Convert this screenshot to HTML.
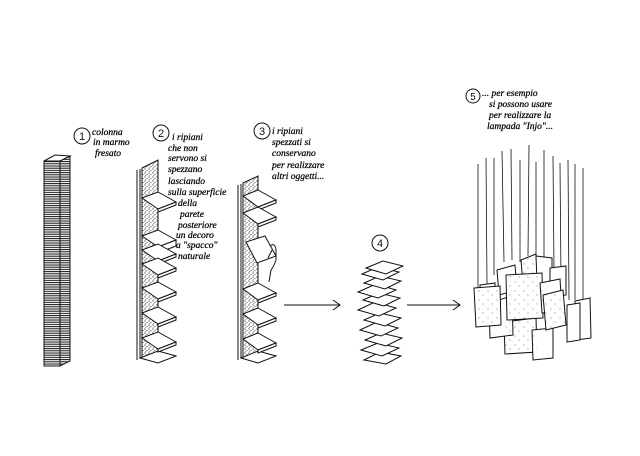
<!DOCTYPE html>
<html><head><meta charset="utf-8"><style>
html,body{margin:0;padding:0;background:#fff;}
svg{display:block}
.h{font-family:"Liberation Serif",serif;font-style:italic;font-size:9.5px;fill:#000;stroke:#000;stroke-width:0.25px;}
</style></head><body>
<svg width="640" height="456" viewBox="0 0 640 456" xmlns="http://www.w3.org/2000/svg">
<defs>
<pattern id="hl" width="4" height="2.2" patternUnits="userSpaceOnUse"><line x1="0" y1="1" x2="4" y2="1" stroke="#111" stroke-width="1"/></pattern>
<pattern id="st" width="4" height="4" patternUnits="userSpaceOnUse"><circle cx="1" cy="1" r="0.6" fill="#222"/><circle cx="3" cy="2.5" r="0.55" fill="#333"/><circle cx="1.8" cy="3.6" r="0.45" fill="#444"/></pattern>
<pattern id="dt" width="9" height="9" patternUnits="userSpaceOnUse"><circle cx="2" cy="3" r="0.5" fill="#555"/><circle cx="6" cy="7" r="0.5" fill="#555"/></pattern>
</defs>
<g fill="none" stroke="#111" stroke-width="1">
<!-- column 1 -->
<rect x="44" y="161" width="16" height="205" fill="url(#hl)"/>
<polygon points="60,161 70,156 70,361 60,366" fill="url(#hl)"/>
<polygon points="44,161 55,155 70,156 60,161" fill="#fff"/>
<!-- column 2 -->
<line x1="137" y1="170" x2="137" y2="360"/><line x1="140" y1="169" x2="140" y2="358"/>
<polygon points="142,168 158,160 158,352 142,358" fill="url(#st)"/>
<polygon points="140,358 158,351 176,356 158,363" fill="#fff"/>
<g fill="#fff">
<polygon points="142,198 158,192 176,202 158,209"/><polygon points="158,209 176,202 176,205 158,212"/>
<polygon points="142,236 158,230 176,240 158,247"/><polygon points="158,247 176,240 176,246 158,253"/>
<polygon points="142,250 158,244 176,254 158,261"/><polygon points="158,261 176,254 176,257 158,264"/>
<polygon points="142,264 158,258 176,268 158,275"/><polygon points="158,275 176,268 176,271 158,278"/>
<polygon points="142,288 158,282 176,292 158,299"/><polygon points="158,299 176,292 176,295 158,302"/>
<polygon points="142,313 158,307 176,317 158,324"/><polygon points="158,324 176,317 176,320 158,327"/>
<polygon points="142,338 158,332 176,342 158,349"/><polygon points="158,349 176,342 176,345 158,352"/>
</g>
<!-- column 3 -->
<line x1="238" y1="185" x2="238" y2="360"/><line x1="241" y1="184" x2="241" y2="358"/>
<polygon points="243,183 258,176 258,352 243,358" fill="url(#st)"/>
<polygon points="241,358 258,351 276,356 258,363" fill="#fff"/>
<g fill="#fff">
<polygon points="243,196 258,190 276,200 258,207"/><polygon points="258,207 276,200 276,203 258,210"/>
<polygon points="243,213 258,207 276,217 258,224"/><polygon points="258,224 276,217 276,220 258,227"/>
<polygon points="243,289 258,283 276,293 258,300"/><polygon points="258,300 276,293 276,296 258,303"/>
<polygon points="243,314 258,308 276,318 258,325"/><polygon points="258,325 276,318 276,321 258,328"/>
<polygon points="243,339 258,333 276,343 258,350"/><polygon points="258,350 276,343 276,346 258,353"/>
<polygon points="246,242 265,236 276,256 257,263"/>
</g>
<path d="M270,246 q5,-4 6,4 l0,10 q-2,6 -5,10 l-2,12 M268,258 l4,-8"/>
<!-- arrows -->
<line x1="284" y1="305" x2="340" y2="305"/><path d="M333,300 L340,305 L333,310"/>
<line x1="407" y1="305" x2="460" y2="305"/><path d="M453,300 L460,305 L453,310"/>
<!-- circles -->
<circle cx="82" cy="136" r="8"/><circle cx="161" cy="133" r="8"/><circle cx="262" cy="131" r="8"/>
<circle cx="380" cy="243" r="8"/><circle cx="473" cy="96" r="7"/>
<!-- stack 4 -->
<g fill="#fff">
<polygon points="364,360 380,352 401,356 386,364"/>
<polygon points="361,350 378,343 399,348 382,356"/>
<polygon points="365,340 381,333 402,338 386,346"/>
<polygon points="360,330 377,322 398,328 381,336"/>
<polygon points="364,320 380,313 401,318 385,326"/>
<polygon points="358,310 375,302 396,308 379,316"/>
<polygon points="363,300 379,293 400,298 384,306"/>
<polygon points="358,292 376,284 396,290 378,298"/>
<polygon points="364,283 380,276 401,281 385,289"/>
<polygon points="362,274 378,267 399,272 383,280"/>
<polygon points="366,268 383,261 403,266 386,274"/>
</g>
<!-- lamp strings -->
<g stroke-width="0.8">
<line x1="478" y1="164" x2="478" y2="290"/><line x1="486" y1="158" x2="487" y2="285"/>
<line x1="494" y1="158" x2="494" y2="275"/><line x1="502" y1="151" x2="504" y2="262"/>
<line x1="511" y1="149" x2="512" y2="260"/><line x1="520" y1="160" x2="520" y2="262"/>
<line x1="529" y1="145" x2="528" y2="256"/><line x1="536" y1="162" x2="536" y2="258"/>
<line x1="544" y1="150" x2="544" y2="265"/><line x1="553" y1="156" x2="554" y2="270"/>
<line x1="560" y1="163" x2="561" y2="280"/><line x1="568" y1="160" x2="569" y2="300"/>
<line x1="575" y1="164" x2="575" y2="300"/><line x1="583" y1="168" x2="583" y2="300"/>
</g>
<!-- lamp panels -->
<g fill="#fff">
<polygon points="521,260 536,254 538,280 523,285" fill="url(#dt)"/>
<polygon points="536,256 552,258 552,285 537,282"/>
<polygon points="497,270 515,265 517,290 499,295"/>
<polygon points="550,268 566,266 566,295 550,296"/>
<polygon points="575,301 590,298 591,338 576,340"/>
<polygon points="567,305 580,303 580,340 567,342"/>
<polygon points="480,285 495,283 495,315 481,317"/>
<polygon points="504,322 536,318 537,352 505,354"/>
<polygon points="532,330 553,328 553,358 533,360"/>
<polygon points="489,303 512,296 513,335 490,338"/>
<polygon points="474,288 500,286 501,325 476,327"/>
<polygon points="506,275 542,273 543,318 507,320"/>
<polygon points="540,283 560,279 562,311 542,313"/>
<polygon points="543,295 563,290 566,325 546,330"/>
</g>
<g fill="url(#dt)" stroke="none">
<polygon points="506,275 542,273 543,318 507,320"/><polygon points="474,288 500,286 501,325 476,327"/>
<polygon points="543,295 563,290 566,325 546,330"/><polygon points="504,322 536,318 537,352 505,354"/>
</g>
</g>
<!-- text -->
<text class="h"><tspan x="92" y="135">colonna</tspan><tspan x="93" y="145">in marmo</tspan><tspan x="95" y="156">fresato</tspan></text>
<text class="h"><tspan x="172" y="140">i ripiani</tspan><tspan x="168" y="151">che non</tspan><tspan x="168" y="161">servono si</tspan><tspan x="168" y="172">spezzano</tspan><tspan x="168" y="184">lasciando</tspan><tspan x="168" y="195">sulla superficie</tspan><tspan x="178" y="206">della</tspan><tspan x="180" y="217">parete</tspan><tspan x="178" y="228">posteriore</tspan><tspan x="176" y="238">un decoro</tspan><tspan x="176" y="248">a "spacco"</tspan><tspan x="178" y="259">naturale</tspan></text>
<text class="h"><tspan x="272" y="134">i ripiani</tspan><tspan x="272" y="145">spezzati si</tspan><tspan x="272" y="156">conservano</tspan><tspan x="272" y="168">per realizzare</tspan><tspan x="272" y="179">altri oggetti...</tspan></text>
<text class="h"><tspan x="482" y="96">... per esempio</tspan><tspan x="489" y="107">si possono usare</tspan><tspan x="489" y="118">per realizzare la</tspan><tspan x="487" y="129">lampada "Injo"...</tspan></text>
<g font-family="Liberation Sans,sans-serif" font-size="11" fill="#111" text-anchor="middle">
<text x="82" y="140">1</text><text x="161" y="137">2</text><text x="262" y="135">3</text><text x="380" y="247">4</text><text x="473" y="100" font-size="10">5</text>
</g>
</svg>
</body></html>
